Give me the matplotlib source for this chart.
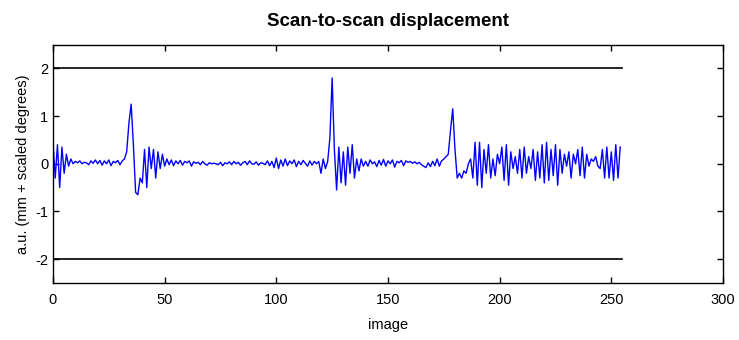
import numpy as np
import matplotlib
matplotlib.use("Agg")
import matplotlib.pyplot as plt

# displacement trace
start_burst = [0.45, -0.3, 0.4, -0.5, 0.35, -0.2, 0.2, -0.05, 0.1, 0.0]
quiet_1 = [0.05, 0.02, 0.06, 0.0, 0.03, 0.02, -0.02, 0.06, 0.01, 0.08,
           0.0, 0.07, -0.03, 0.06, 0.0, 0.08, -0.04, 0.05, 0.02, 0.07,
           -0.02, 0.06, 0.1]
spike_1 = [0.25, 0.85, 1.25, 0.4, -0.6, -0.65, -0.3, -0.4, 0.3, -0.5,
           0.35, -0.1, 0.3, -0.3, 0.25, -0.1, 0.2]
quiet_2 = [-0.05, 0.1, -0.02, 0.08, -0.04, 0.06, 0.0, 0.07, -0.03, 0.05,
           0.02, 0.06, -0.05, 0.04, 0.01, 0.03, -0.02, 0.05, 0.0, -0.03,
           0.02, 0.0, 0.01, 0.0, -0.02, 0.03, -0.04, 0.02, 0.0, 0.04,
           -0.02, 0.05, 0.0, 0.03, -0.03, 0.02, 0.05, -0.02, 0.06, 0.0,
           -0.01, 0.04, -0.03, 0.02, 0.01, -0.02, 0.06, -0.04, 0.05, -0.08,
           0.12, -0.1, 0.08, -0.05, 0.1, -0.04, 0.06, 0.0, 0.08, -0.06,
           0.05, -0.02, 0.07, 0.01, -0.05, 0.06, -0.03, 0.05, 0.0]
pre_spike_2 = [0.05, -0.2, 0.1, -0.1, 0.05, 0.55]
spike_2 = [1.8, 0.3, -0.55, 0.35, -0.4, 0.25, -0.45, 0.35, -0.2, 0.4,
           -0.3, 0.1, -0.15, 0.1, -0.05]
quiet_3 = [0.05, -0.05, 0.08, 0.0, 0.04, -0.06, 0.07, -0.03, 0.09, -0.05,
           0.06, 0.0, 0.08, -0.07, 0.05, 0.02, 0.07, -0.04, 0.06, 0.03,
           0.05, 0.01, 0.04, 0.0, 0.03, -0.02, -0.05, -0.08, 0.02, -0.06,
           0.05, -0.04, 0.1, -0.05, 0.06, 0.1, 0.15]
spike_3 = [0.2, 0.7, 1.15, 0.3, -0.3, -0.2, -0.3, -0.15]
noisy_tail = [-0.2, 0.0, 0.1, -0.3, 0.45, -0.45, 0.45, -0.5, 0.3, -0.2,
              0.4, -0.3, 0.1, -0.25, 0.2, 0.0, 0.35, -0.35, 0.4, -0.45,
              0.25, -0.1, 0.15, -0.2, 0.3, -0.3, 0.35, -0.2, 0.15, -0.1,
              0.3, -0.35, 0.25, -0.3, 0.4, -0.4, 0.45, -0.35, 0.3, -0.25,
              0.4, -0.45, 0.3, -0.2, 0.2, -0.05, 0.25, -0.3, 0.2, 0.0,
              0.3, -0.25, 0.35, -0.3, 0.2, -0.05, 0.1, 0.05, 0.15, -0.05,
              -0.1, 0.3, -0.3, 0.35, -0.3, 0.25, -0.35, 0.4, -0.3, 0.35]

threshold = 2
n_images = 255

disp = np.array(start_burst + quiet_1 + spike_1 + quiet_2 + pre_spike_2
                + spike_2 + quiet_3 + spike_3 + noisy_tail)
x = np.arange(len(disp))

plt.rcParams['font.family'] = ['Liberation Sans', 'DejaVu Sans']
plt.rcParams['axes.unicode_minus'] = False

fig = plt.figure(figsize=(7.39, 3.40), dpi=100)
ax = fig.add_axes([0.0717, 0.1676, 0.9066, 0.7015])

ax.plot(x, disp, color='#0000ff', linewidth=1.0)
ax.plot([0, n_images], [threshold, threshold], color='black', linewidth=1.2)
ax.plot([0, n_images], [-threshold, -threshold], color='black', linewidth=1.2)

ax.set_xlim(0, 300)
ax.set_ylim(-2.5, 2.5)
ax.set_xticks(np.arange(0, 301, 50))
ax.set_yticks([-2, -1, 0, 1, 2])
ax.tick_params(direction='in', top=True, right=True, length=4,
               labelsize=10.5, width=1)
ax.tick_params(axis='x', pad=7)
for s in ax.spines.values():
    s.set_linewidth(1.0)

ax.set_title('Scan-to-scan displacement', fontsize=13.5, fontweight='bold', pad=13)
ax.set_xlabel('image', fontsize=10.5, labelpad=8)
ax.set_ylabel('a.u. (mm + scaled degrees)', fontsize=10.5)

fig.savefig('out.png', dpi=100)
